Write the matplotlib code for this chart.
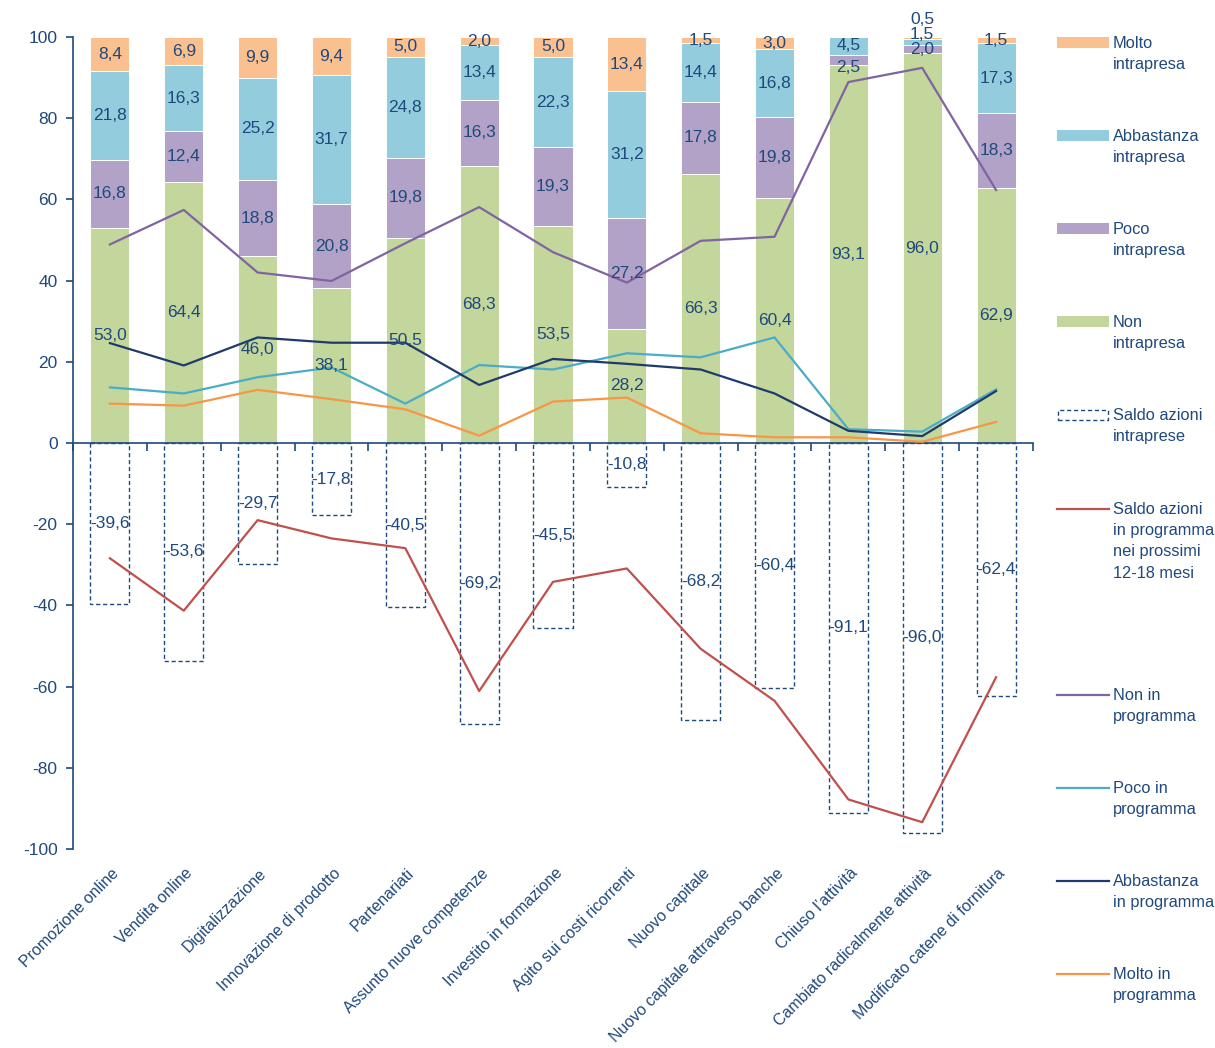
import matplotlib
matplotlib.use("Agg")
import matplotlib.pyplot as plt
from matplotlib.patches import Rectangle
from matplotlib.lines import Line2D
import numpy as np

plt.rcParams['font.family'] = ['Liberation Sans', 'DejaVu Sans']
plt.rcParams['axes.unicode_minus'] = False

categories = ["Promozione online", "Vendita online", "Digitalizzazione",
              "Innovazione di prodotto", "Partenariati",
              "Assunto nuove competenze", "Investito in formazione",
              "Agito sui costi ricorrenti", "Nuovo capitale",
              "Nuovo capitale attraverso banche", "Chiuso l\u2019attivit\u00e0",
              "Cambiato radicalmente attivit\u00e0",
              "Modificato catene di fornitura"]

# azioni intraprese (barre impilate)
non_intr = [53.0, 64.4, 46.0, 38.1, 50.5, 68.3, 53.5, 28.2, 66.3, 60.4, 93.1, 96.0, 62.9]
poco_intr = [16.8, 12.4, 18.8, 20.8, 19.8, 16.3, 19.3, 27.2, 17.8, 19.8, 2.5, 2.0, 18.3]
abb_intr = [21.8, 16.3, 25.2, 31.7, 24.8, 13.4, 22.3, 31.2, 14.4, 16.8, 4.5, 1.5, 17.3]
molto_intr = [8.4, 6.9, 9.9, 9.4, 5.0, 2.0, 5.0, 13.4, 1.5, 3.0, 0.0, 0.5, 1.5]
saldo_intr = [-39.6, -53.6, -29.7, -17.8, -40.5, -69.2, -45.5, -10.8, -68.2,
              -60.4, -91.1, -96.0, -62.4]

# azioni in programma (linee)
saldo_prog = [-28.4, -41.3, -19.0, -23.5, -25.9, -61.1, -34.2, -30.9, -50.7,
              -63.5, -87.8, -93.4, -57.7]
non_prog = [48.9, 57.4, 42.0, 39.9, 49.2, 58.1, 47.0, 39.5, 49.8, 50.8, 88.9, 92.4, 62.3]
poco_prog = [13.7, 12.2, 16.2, 18.6, 9.7, 19.2, 18.1, 22.1, 21.1, 26.0, 3.4, 2.8, 13.2]
abb_prog = [24.6, 19.1, 26.0, 24.7, 24.7, 14.3, 20.7, 19.5, 18.1, 12.2, 3.0, 1.7, 12.8]
molto_prog = [9.7, 9.2, 13.1, 10.8, 8.3, 1.8, 10.2, 11.2, 2.4, 1.4, 1.4, 0.3, 5.2]

TXT = '#1F497D'
c_molto, c_abb, c_poco, c_non = '#FAC090', '#93CDDD', '#B3A2C7', '#C3D69B'
l_saldo, l_non, l_poco, l_abb, l_molto = '#C0504D', '#8064A2', '#4BACC6', '#1F3B6B', '#F79646'
FS = 12.5

fig = plt.figure(figsize=(12.15, 10.48), dpi=100)
ax = fig.add_axes([73 / 1215, 1 - 849 / 1048, 960 / 1215, 812 / 1048])

x = np.arange(len(categories))
w = 0.53
stacks = [(non_intr, c_non), (poco_intr, c_poco), (abb_intr, c_abb), (molto_intr, c_molto)]
bottom = np.zeros(len(x))
label_y = {}
for k, (vals, col) in enumerate(stacks):
    v = np.array(vals)
    ax.bar(x, v, w, bottom=bottom, color=col, edgecolor='white', linewidth=0.7, zorder=2)
    for i in range(len(x)):
        if v[i] > 0:
            label_y[(i, k)] = (bottom[i] + v[i] / 2, v[i])
    bottom += v

# manual nudges for the crowded small segments
nudge = {(10, 1): 92.4, (11, 2): 100.6, (11, 3): 104.2}
for (i, k), (yc, val) in label_y.items():
    yy = nudge.get((i, k), yc)
    ax.text(i, yy, f"{val:.1f}".replace('.', ','), ha='center', va='center',
            color=TXT, fontsize=FS, zorder=5)

ax.bar(x, saldo_intr, w, facecolor='none', edgecolor=TXT, linestyle=(0, (3, 2)),
       linewidth=1.0, zorder=2)
for i, v in enumerate(saldo_intr):
    ax.text(i, v / 2, f"{v:.1f}".replace('.', ','), ha='center', va='center',
            color=TXT, fontsize=FS, zorder=5)

lines = [(saldo_prog, l_saldo), (non_prog, l_non), (poco_prog, l_poco),
         (abb_prog, l_abb), (molto_prog, l_molto)]
for vals, col in lines:
    ax.plot(x, vals, color=col, linewidth=1.6, zorder=4)

ax.set_xlim(-0.5, len(x) - 0.5)
ax.set_ylim(-100, 100)
ax.set_yticks(np.arange(-100, 101, 20))
ax.tick_params(axis='y', colors=TXT, labelsize=FS, direction='out', length=5, width=1.2, pad=6)
ax.spines['left'].set_color(TXT)
ax.spines['left'].set_linewidth(1.2)
ax.spines['bottom'].set_position(('data', 0))
ax.spines['bottom'].set_color(TXT)
ax.spines['bottom'].set_linewidth(1.2)
ax.spines['top'].set_visible(False)
ax.spines['right'].set_visible(False)
ax.set_xticks(np.arange(-0.5, len(x), 1))
ax.set_xticklabels([])
ax.tick_params(axis='x', colors=TXT, direction='out', length=6, width=1.2)

for i, lab in enumerate(categories):
    ax.annotate(lab, xy=(i, -100), xytext=(1, -12), textcoords='offset points',
                rotation=45, ha='right', va='top', rotation_mode='anchor',
                color=TXT, fontsize=11.5, annotation_clip=False)

# legend on the right, drawn by hand
def fx(px):
    return px / 1215

def fy(py):
    return 1 - py / 1048

legend = [
    ('patch', c_molto, "Molto\nintrapresa", 43),
    ('patch', c_abb, "Abbastanza\nintrapresa", 136),
    ('patch', c_poco, "Poco\nintrapresa", 229),
    ('patch', c_non, "Non\nintrapresa", 322),
    ('box', TXT, "Saldo azioni\nintraprese", 415),
    ('line', l_saldo, "Saldo azioni\nin programma\nnei prossimi\n12-18 mesi", 509),
    ('line', l_non, "Non in\nprogramma", 695),
    ('line', l_poco, "Poco in\nprogramma", 788),
    ('line', l_abb, "Abbastanza\nin programma", 881),
    ('line', l_molto, "Molto in\nprogramma", 974),
]
for kind, col, txt, py in legend:
    if kind == 'patch':
        fig.add_artist(Rectangle((fx(1057), fy(py + 5)), fx(52), 11 / 1048,
                                 facecolor=col, edgecolor='none'))
    elif kind == 'box':
        fig.add_artist(Rectangle((fx(1058), fy(py + 5)), fx(50), 10 / 1048,
                                 facecolor='none', edgecolor=col, linewidth=1.0,
                                 linestyle=(0, (3, 2))))
    else:
        fig.add_artist(Line2D([fx(1057), fx(1109)], [fy(py), fy(py)],
                              color=col, linewidth=1.6))
    fig.text(fx(1113), fy(py - 7), txt, ha='left', va='top', color=TXT,
             fontsize=11.8, linespacing=1.52)

fig.savefig("out.png", dpi=100)
